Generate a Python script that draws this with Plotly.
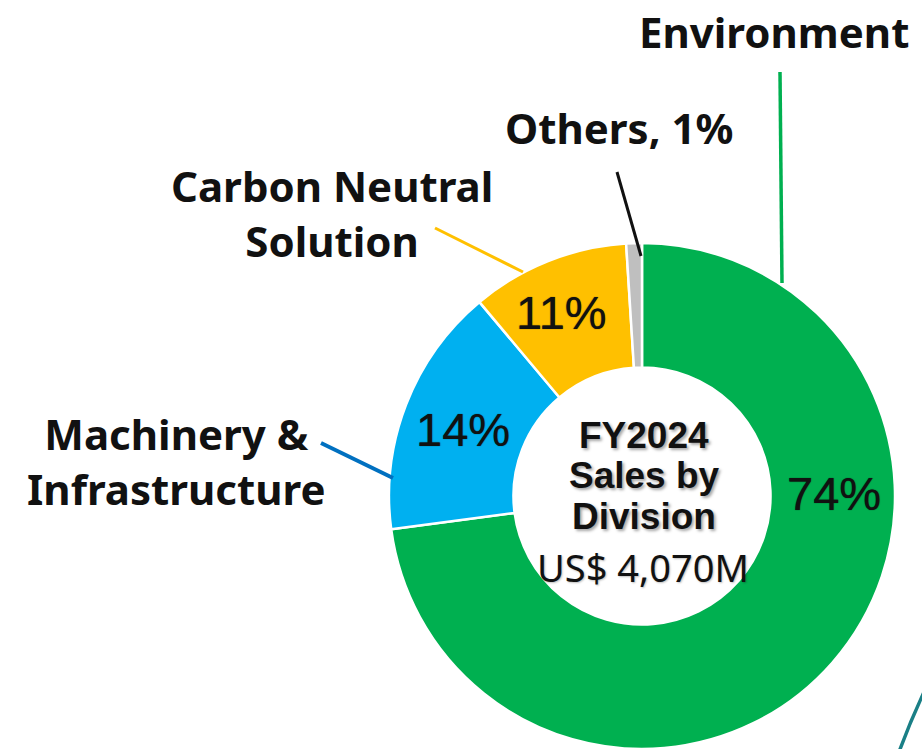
import plotly.graph_objects as go

W, H = 922, 749

divisions = ["Environment", "Machinery & Infrastructure", "Carbon Neutral Solution", "Others"]
shares = [72.9, 16.0, 10.1, 1.0]          # slice sizes as drawn
share_labels = ["74%", "14%", "11%", "1%"]  # printed labels
colors = ["#00B050", "#00B0F0", "#FFC000", "#BFBFBF"]
center_lines = ["FY2024", "Sales by", "Division"]
total_label = "US$ 4,070M"


def px(x):
    return x / W


def py(y):
    return 1 - y / H


fig = go.Figure(
    go.Pie(
        labels=divisions,
        values=shares,
        sort=False,
        direction="clockwise",
        rotation=0,
        hole=0.508,
        marker=dict(colors=colors, line=dict(color="white", width=2.5)),
        textinfo="none",
        hoverinfo="label+percent",
        domain=dict(x=[px(389), px(895)], y=[py(749), py(243)]),
        showlegend=False,
    )
)

LBL_FONT = dict(family="Noto Sans", size=42, color="#111111", weight="bold")
PCT_FONT = dict(family="Liberation Sans", size=47, color="#111111",
                shadow="0px 0px 1px rgba(0,0,0,0.8)")
CTR_FONT = dict(family="Liberation Sans", size=37, color="#111111", weight="bold",
                shadow="2px 2px 3px rgba(0,0,0,0.35)")
TOT_FONT = dict(family="Noto Sans", size=38, color="#111111",
                shadow="1px 1px 2px rgba(0,0,0,0.25)")

ann = []


def add(text, x, y, font):
    ann.append(dict(text=text, x=px(x), y=py(y), xref="paper", yref="paper",
                    xanchor="center", yanchor="middle", align="center",
                    showarrow=False, font=font))


# percentage labels inside slices
add(share_labels[0], 834, 493, PCT_FONT)
add(share_labels[1], 463, 429, PCT_FONT)
add(share_labels[2], 561, 312, PCT_FONT)

# centre text
add(center_lines[0], 644, 435, CTR_FONT)
add(center_lines[1], 644, 476, CTR_FONT)
add(center_lines[2], 644, 516, CTR_FONT)
add(total_label, 643, 567, TOT_FONT)

# category labels
add("Environment", 774, 31, LBL_FONT)
add("Others, " + share_labels[3], 619, 127, LBL_FONT)
add("Carbon Neutral<br>Solution", 332, 213, LBL_FONT)
add("Machinery &<br>Infrastructure", 176, 461, LBL_FONT)

shapes = []


def line(x0, y0, x1, y1, color, width=3):
    shapes.append(dict(type="line", xref="paper", yref="paper",
                       x0=px(x0), y0=py(y0), x1=px(x1), y1=py(y1),
                       line=dict(color=color, width=width)))


line(780, 72, 782, 283, "#00B050", 3.5)
line(617, 172, 641, 256, "#111111", 3)
line(435, 228, 523, 272, "#FFC000", 3)
line(321, 443, 393, 478, "#0070C0", 4)

# decorative teal arc in lower-right corner
shapes.append(dict(
    type="path", xref="paper", yref="paper",
    path=f"M {px(899)},{py(752)} Q {px(910)},{py(722)} {px(924)},{py(692)}",
    line=dict(color="#1A7F86", width=3.5),
))

fig.update_layout(
    width=W, height=H,
    margin=dict(l=0, r=0, t=0, b=0),
    paper_bgcolor="white", plot_bgcolor="white",
    annotations=ann, shapes=shapes,
)

# remove the browser's default 8px body margin so the figure fills the window
fig.write_html("out.html",
               config={"displayModeBar": False},
               post_script="document.body.style.margin='0';document.body.style.overflow='hidden';")
